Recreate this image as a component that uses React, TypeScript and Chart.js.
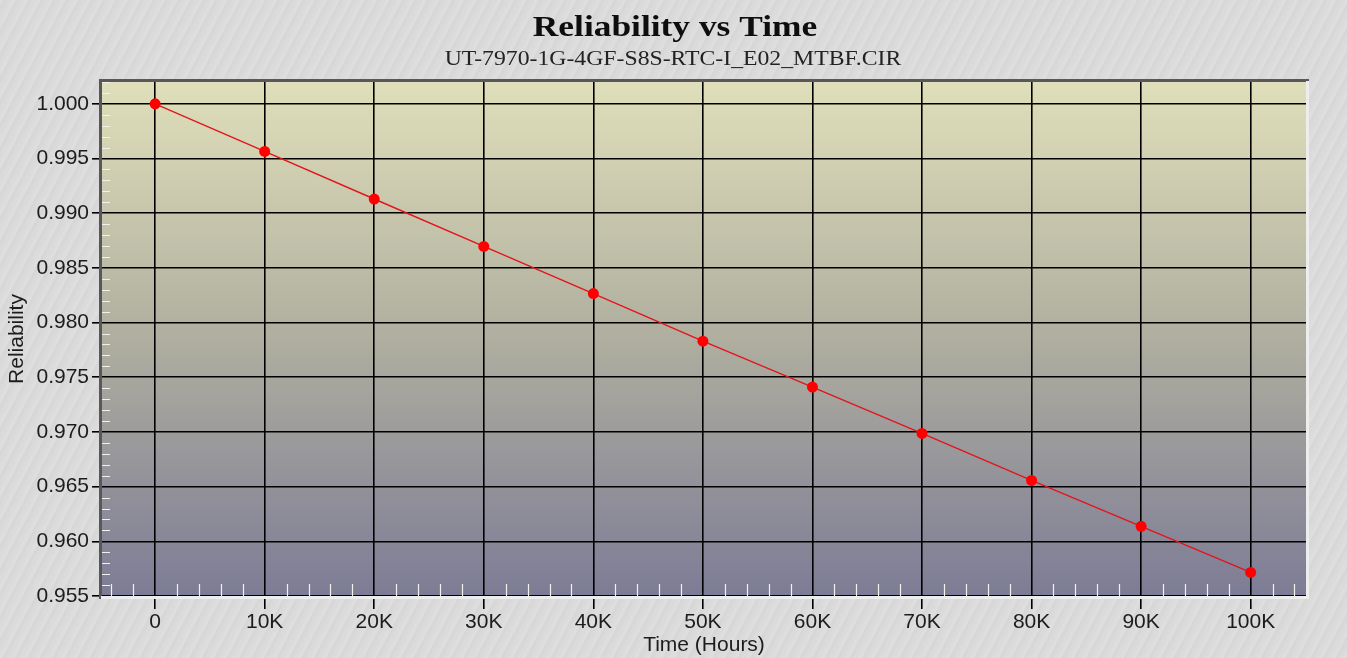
import React, { useEffect, useRef } from "react";
import Chart from "chart.js/auto";

const chartTitle = "Reliability vs Time";
const chartSubtitle = "UT-7970-1G-4GF-S8S-RTC-I_E02_MTBF.CIR";
const xAxisTitle = "Time (Hours)";
const yAxisTitle = "Reliability";

const timeHours = [0, 10000, 20000, 30000, 40000, 50000, 60000, 70000, 80000, 90000, 100000];
const reliability = [1.0, 0.99565, 0.9913, 0.98696, 0.98265, 0.9783, 0.9741, 0.96987, 0.96557, 0.96137, 0.95716];

const xTickValues = [0, 10000, 20000, 30000, 40000, 50000, 60000, 70000, 80000, 90000, 100000];
const xTickLabels = ["0", "10K", "20K", "30K", "40K", "50K", "60K", "70K", "80K", "90K", "100K"];
const yTickValues = [0.955, 0.96, 0.965, 0.97, 0.975, 0.98, 0.985, 0.99, 0.995, 1.0];
const yTickLabels = ["0.955", "0.960", "0.965", "0.970", "0.975", "0.980", "0.985", "0.990", "0.995", "1.000"];

const xMin = -4850;
const xMax = 105050;
const yMin = 0.955;
const yMax = 1.002;
const xMinorStep = 2000;
const yMinorStep = 0.001;

const TEXT = "#1c1c1c";
const SANS = '"Liberation Sans", Arial, sans-serif';
const SERIF = '"Liberation Serif", "Times New Roman", serif';

const decorPlugin = {
  id: "decor",
  beforeDraw(chart: any) {
    const { ctx, chartArea } = chart;
    const { left, top, right, bottom } = chartArea;
    ctx.save();
    const g = ctx.createLinearGradient(0, top, 0, bottom);
    g.addColorStop(0, "#e0dfba");
    g.addColorStop(0.5, "#afae9f");
    g.addColorStop(1, "#7d7c96");
    ctx.fillStyle = g;
    ctx.fillRect(left, top, right - left, bottom - top);
    ctx.restore();

    // titles
    ctx.save();
    ctx.fillStyle = "#0e0e0e";
    ctx.textAlign = "center";
    ctx.textBaseline = "alphabetic";
    ctx.font = `bold 29px ${SERIF}`;
    ctx.translate(675, 36);
    ctx.scale(1.22, 1);
    ctx.fillText(chartTitle, 0, 0);
    ctx.restore();
    ctx.save();
    ctx.fillStyle = "#222";
    ctx.textAlign = "center";
    ctx.textBaseline = "alphabetic";
    ctx.font = `21px ${SERIF}`;
    ctx.translate(673, 65);
    ctx.scale(1.13, 1);
    ctx.fillText(chartSubtitle, 0, 0);
    ctx.restore();
  },
  beforeDatasetsDraw(chart: any) {
    const { ctx, chartArea, scales } = chart;
    const { left, top, right, bottom } = chartArea;
    const xs = scales.x;
    const ys = scales.y;
    ctx.save();
    // minor ticks
    ctx.strokeStyle = "#f2f2ea";
    ctx.lineWidth = 1.2;
    ctx.beginPath();
    for (let v = Math.ceil(xMin / xMinorStep) * xMinorStep; v <= xMax; v += xMinorStep) {
      if (Math.abs(v % 10000) < 1e-6) continue;
      const px = Math.round(xs.getPixelForValue(v)) + 0.5;
      ctx.moveTo(px, bottom);
      ctx.lineTo(px, bottom - 12);
    }
    for (let i = 0; ; i++) {
      const v = yMin + i * yMinorStep;
      if (v > yMax + 1e-9) break;
      if (i % 5 === 0) continue;
      const py = Math.round(ys.getPixelForValue(v)) + 0.5;
      ctx.moveTo(left, py);
      ctx.lineTo(left + 8, py);
    }
    ctx.stroke();
    // 3D border
    ctx.fillStyle = "#58585a";
    ctx.fillRect(left - 3, top - 3, right - left + 6, 3);
    ctx.fillRect(left - 3, top - 3, 3, bottom - top + 6);
    ctx.fillStyle = "#ededed";
    ctx.fillRect(left - 1, bottom, right - left + 4, 3);
    ctx.fillRect(right, top - 1, 3, bottom - top + 4);
    ctx.restore();
  },
};

export default function App() {
  const canvasRef = useRef<HTMLCanvasElement | null>(null);

  useEffect(() => {
    if (!canvasRef.current) return;
    const points = timeHours.map((t, i) => ({ x: t, y: reliability[i] }));
    const chart = new Chart(canvasRef.current, {
      type: "scatter",
      data: {
        datasets: [
          {
            data: points,
            showLine: true,
            borderColor: "#e4141c",
            borderWidth: 1.4,
            pointBackgroundColor: "#ff0000",
            pointBorderColor: "#ff0000",
            pointBorderWidth: 0,
            pointRadius: 5.5,
          },
        ],
      },
      options: {
        animation: false,
        responsive: false,
        maintainAspectRatio: false,
        layout: { padding: { top: 82, right: 41, bottom: 0, left: 0 } },
        plugins: {
          legend: { display: false },
          tooltip: { enabled: false },
          title: { display: false },
        },
        scales: {
          x: {
            type: "linear",
            min: xMin,
            max: xMax,
            afterBuildTicks: (s: any) => {
              s.ticks = xTickValues.map((v) => ({ value: v }));
            },
            afterFit: (s: any) => {
              s.height = 62;
            },
            ticks: {
              autoSkip: false,
              maxRotation: 0,
              padding: 1,
              color: TEXT,
              font: { family: SANS, size: 21 },
              callback: (_v: any, i: number) => xTickLabels[i],
            },
            grid: { color: "#000", lineWidth: 1.6, tickColor: "#000", tickLength: 13, tickWidth: 1.6, drawOnChartArea: true },
            border: { display: false },
            title: {
              display: true,
              text: xAxisTitle,
              color: TEXT,
              font: { family: SANS, size: 21 },
              padding: { top: 0, bottom: 0 },
            },
          },
          y: {
            type: "linear",
            min: yMin,
            max: yMax,
            afterBuildTicks: (s: any) => {
              s.ticks = yTickValues.map((v) => ({ value: v }));
            },
            afterFit: (s: any) => {
              s.width = 102;
            },
            ticks: {
              autoSkip: false,
              padding: 3,
              color: TEXT,
              font: { family: SANS, size: 21 },
              callback: (_v: any, i: number) => yTickLabels[i],
            },
            grid: { color: "#000", lineWidth: 1.6, tickColor: "#000", tickLength: 10, tickWidth: 1.6, drawOnChartArea: true },
            border: { display: false },
            title: {
              display: true,
              text: yAxisTitle,
              color: TEXT,
              font: { family: SANS, size: 21 },
              padding: { top: 5, bottom: 0 },
            },
          },
        },
      },
      plugins: [decorPlugin],
    });
    return () => chart.destroy();
  }, []);

  return (
    <div
      style={{
        position: "fixed",
        left: 0,
        top: 0,
        width: 1347,
        height: 658,
        backgroundColor: "#dadada",
        backgroundImage:
          "repeating-linear-gradient(118deg, rgba(255,255,255,0.12) 0px, rgba(255,255,255,0.12) 2px, rgba(0,0,0,0.02) 4px, rgba(0,0,0,0) 7px, rgba(255,255,255,0.06) 11px)",
      }}
    >
      <canvas ref={canvasRef} width={1347} height={658} style={{ display: "block", width: 1347, height: 658 }} />
    </div>
  );
}
